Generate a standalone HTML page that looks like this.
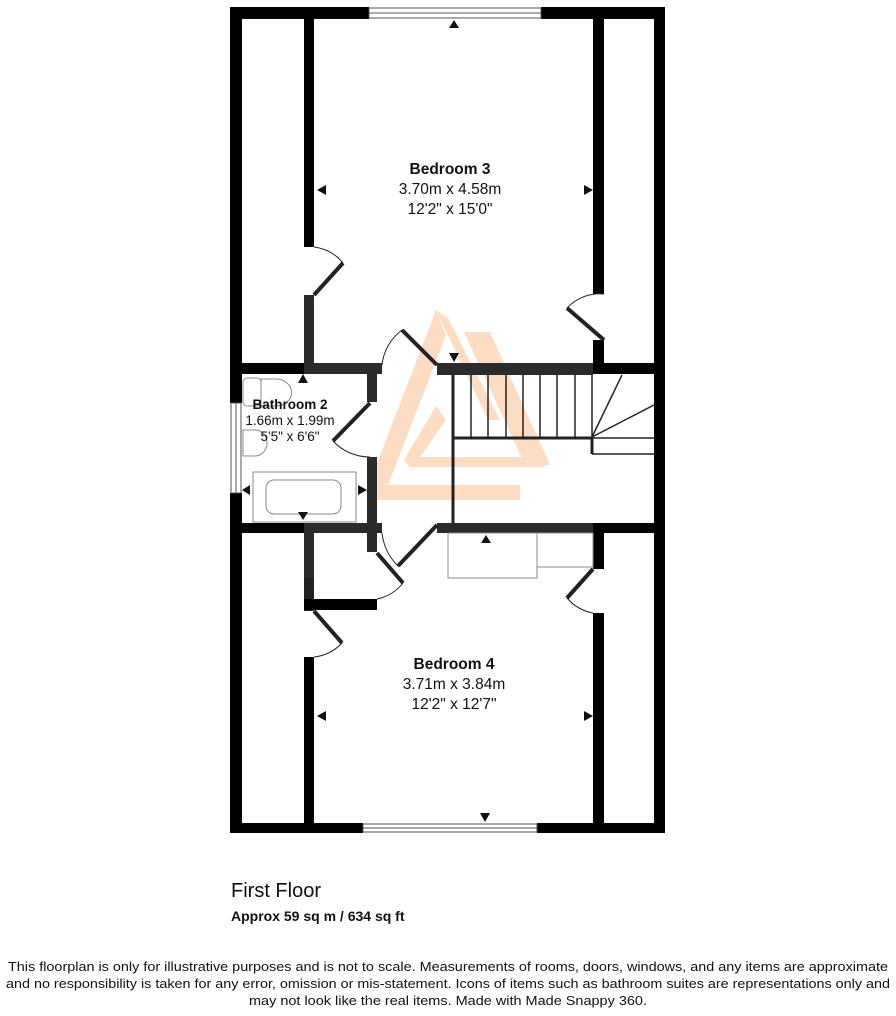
<!DOCTYPE html>
<html><head><meta charset="utf-8"><style>
body{margin:0;background:#fff;width:896px;height:1016px;overflow:hidden;font-family:"Liberation Sans",Arial,sans-serif}
svg{position:absolute;left:0;top:0}
</style></head><body>
<svg width="896" height="1016" viewBox="0 0 896 1016" font-family="Liberation Sans, Arial, sans-serif">
<!-- watermark -->
<g fill="#fcdcc2">
<polygon points="436,310 446,335 388,485 372,500 366,492"/>
<rect x="372" y="485" width="148" height="15"/>
<polygon points="464,332 490,332 550,465 525,465"/>
<polygon points="436,406 446,420 420,457 410,467 404,460"/>
<rect x="410" y="457" width="135" height="10"/>
<polygon points="436,310 448,318 500,420 488,420"/>
</g>
<!-- outer walls -->
<g fill="#000">
<rect x="230" y="7" width="139" height="12"/>
<rect x="541" y="7" width="124" height="12"/>
<rect x="230" y="823" width="133" height="10"/>
<rect x="537" y="823" width="128" height="10"/>
<rect x="230" y="7" width="12" height="396"/>
<rect x="230" y="493" width="12" height="340"/>
<rect x="654" y="7" width="11" height="826"/>
<rect x="304" y="19" width="10" height="228"/>
<rect x="593" y="19" width="11" height="275"/>
<rect x="593" y="340" width="11" height="23"/>
<rect x="242" y="363" width="62" height="11"/>
<rect x="593" y="363" width="62" height="11"/>
<rect x="242" y="523" width="62" height="10"/>
<rect x="593" y="523" width="62" height="10"/>
<rect x="304" y="533" width="10" height="78" fill="#222"/>
<rect x="304" y="599" width="73" height="11"/>
<rect x="304" y="657" width="10" height="166"/>
<rect x="593" y="533" width="11" height="36"/>
<rect x="593" y="613" width="11" height="210"/>
</g>
<g fill="#2b2b2b">
<rect x="304" y="295" width="10" height="79"/>
<rect x="304" y="363" width="78" height="11"/>
<rect x="367" y="363" width="10" height="39"/>
<rect x="437" y="363" width="156" height="12"/>
<rect x="367" y="457" width="10" height="95"/>
<rect x="304" y="523" width="78" height="10"/>
<rect x="437" y="523" width="156" height="10"/>
<rect x="304" y="533" width="10" height="45"/>
</g>
<!-- windows -->
<g fill="#fff" stroke="#555" stroke-width="1">
<rect x="369" y="8" width="172" height="10"/><line x1="369" y1="13" x2="541" y2="13"/>
<rect x="363" y="824" width="174" height="8"/><line x1="363" y1="828" x2="537" y2="828"/>
<rect x="231" y="403" width="10" height="90"/><line x1="236" y1="403" x2="236" y2="493"/>
</g>
<!-- stairs -->
<g stroke="#222" stroke-width="1.5" fill="none">
<line x1="453" y1="375" x2="453" y2="523" stroke-width="3"/>
<line x1="453" y1="438" x2="592" y2="438" stroke-width="3"/>
<line x1="592" y1="438" x2="592" y2="454" stroke-width="3"/>
<line x1="592" y1="454" x2="654" y2="454"/>
<line x1="592" y1="438" x2="654" y2="438"/>
<line x1="471" y1="375" x2="471" y2="438"/><line x1="488" y1="375" x2="488" y2="438"/>
<line x1="506" y1="375" x2="506" y2="438"/><line x1="523" y1="375" x2="523" y2="438"/>
<line x1="540" y1="375" x2="540" y2="438"/><line x1="557" y1="375" x2="557" y2="438"/>
<line x1="575" y1="375" x2="575" y2="438"/><line x1="592" y1="375" x2="592" y2="438"/>
<line x1="592" y1="437" x2="622" y2="375"/><line x1="592" y1="437" x2="654" y2="405"/>
</g>
<!-- doors -->
<g stroke="#222" fill="none">
<line x1="314" y1="295" x2="343" y2="263" stroke-width="4"/><path d="M314,247 A45,45 0 0 1 343,263" stroke-width="1"/>
<line x1="604" y1="340" x2="567" y2="308" stroke-width="4"/><path d="M604,294 A45,45 0 0 0 567,308" stroke-width="1"/>
<line x1="437" y1="365" x2="402" y2="330" stroke-width="4"/><path d="M402,330 A50,50 0 0 0 382,365" stroke-width="1"/>
<line x1="370" y1="403" x2="333" y2="441" stroke-width="4"/><path d="M333,441 A50,50 0 0 0 370,457" stroke-width="1"/>
<line x1="437" y1="525" x2="398" y2="566" stroke-width="4"/><path d="M382,533 A55,55 0 0 0 398,566" stroke-width="1"/>
<line x1="377" y1="553" x2="403" y2="583" stroke-width="4"/><path d="M403,583 A45,45 0 0 1 377,599" stroke-width="1"/>
<line x1="314" y1="611" x2="342" y2="643" stroke-width="4"/><path d="M342,643 A45,45 0 0 1 314,657" stroke-width="1"/>
<line x1="593" y1="569" x2="567" y2="598" stroke-width="4"/><path d="M567,598 A45,45 0 0 0 593,613" stroke-width="1"/>
</g>
<!-- fixtures -->
<g stroke="#888" fill="#fff" stroke-width="1">
<rect x="243" y="378" width="18" height="28" rx="4"/><path d="M261,379 h15 a15,13 0 0 1 0,27 h-15 z"/>
<path d="M243,430 h12 a12,13 0 0 1 0,26 h-12 z"/>
<rect x="253" y="472" width="103" height="50"/><rect x="266" y="480" width="75" height="34" rx="8"/>
<rect x="448" y="533" width="89" height="45"/><rect x="537" y="533" width="56" height="34"/>
</g>
<!-- arrows -->
<g fill="#111">
<polygon points="449,28 459,28 454,20"/>
<polygon points="326,185 326,195 317,190"/>
<polygon points="584,185 584,195 593,190"/>
<polygon points="449,353 459,353 454,362"/>
<polygon points="298,383 308,383 303,374"/>
<polygon points="250,485 250,495 242,490"/>
<polygon points="358,485 358,495 367,490"/>
<polygon points="298,512 308,512 303,520"/>
<polygon points="481,543 491,543 486,535"/>
<polygon points="326,711 326,721 317,716"/>
<polygon points="584,711 584,721 593,716"/>
<polygon points="480,813 490,813 485,822"/>
</g>
<!-- labels -->
<g fill="#111" text-anchor="middle">
<text x="450" y="174" font-size="15.5" font-weight="bold">Bedroom 3</text>
<text x="450" y="194" font-size="15.5">3.70m x 4.58m</text>
<text x="450" y="214" font-size="15.5">12'2" x 15'0"</text>
<text x="290" y="409" font-size="13.5" font-weight="bold">Bathroom 2</text>
<text x="290" y="425" font-size="13.5">1.66m x 1.99m</text>
<text x="290" y="441" font-size="13.5">5'5" x 6'6"</text>
<text x="454" y="669" font-size="15.5" font-weight="bold">Bedroom 4</text>
<text x="454" y="689" font-size="15.5">3.71m x 3.84m</text>
<text x="454" y="709" font-size="15.5">12'2" x 12'7"</text>
</g>
<text x="231" y="897" font-size="20" fill="#111">First Floor</text>
<text x="231" y="921" font-size="14" font-weight="bold" fill="#111">Approx 59 sq m / 634 sq ft</text>
<g fill="#111" font-size="13" text-anchor="middle">
<text x="448" y="971" textLength="880" lengthAdjust="spacingAndGlyphs">This floorplan is only for illustrative purposes and is not to scale. Measurements of rooms, doors, windows, and any items are approximate</text>
<text x="448" y="988" textLength="884" lengthAdjust="spacingAndGlyphs">and no responsibility is taken for any error, omission or mis-statement. Icons of items such as bathroom suites are representations only and</text>
<text x="448" y="1005" textLength="398" lengthAdjust="spacingAndGlyphs">may not look like the real items. Made with Made Snappy 360.</text>
</g>
</svg>
</body></html>
